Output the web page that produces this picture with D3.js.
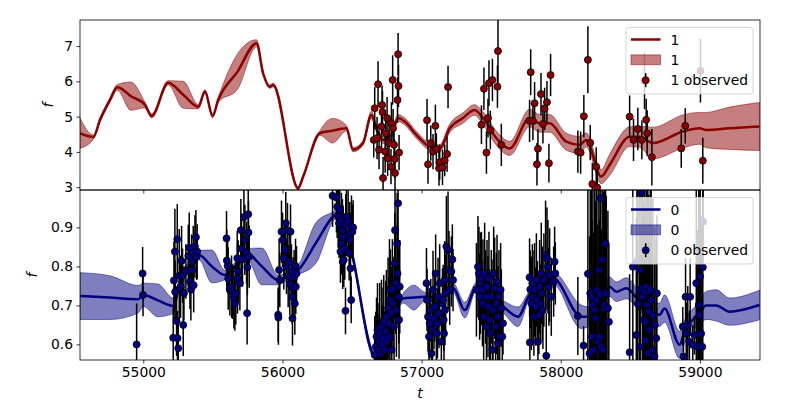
<!DOCTYPE html>
<html><head><meta charset="utf-8">
<script src="https://cdn.jsdelivr.net/npm/d3@7"></script>
<style>body{margin:0;background:#fff} text{font-family:"DejaVu Sans",sans-serif}</style>
</head><body><svg id="c" width="800" height="400"></svg>
<script>
const xTicks = [55000,56000,57000,58000,59000];
const topYTicks = [3,4,5,6,7];
const botYTicks = [0.6,0.7,0.8,0.9];
const seriesNames = ["1","0"];

// GP mean [t, f, sigma] for series "1" (top)
const topMean = [[54545,4.53,0.43],[54641,4.42,0.06],[54689,4.91,0.06],[54760,5.47,0.06],[54813,5.83,0.08],[54911,5.58,0.40],[55012,5.33,0.08],[55060,5.02,0.06],[55179,5.96,0.06],[55287,5.62,0.38],[55395,5.28,0.06],[55443,5.71,0.05],[55498,5.02,0.05],[55538,5.47,0.07],[55676,6.27,0.50],[55814,7.08,0.1],[55861,6.23,0.05],[55909,5.85,0.05],[55933,5.90,0.05],[56113,2.97,0.05],[56149,3.30,0.05],[56268,4.53,0.06],[56361,4.60,0.35],[56460,4.67,0.08],[56507,4.06,0.06],[56579,4.25,0.06],[56639,5.05,0.1],[56675,4.67,0.1],[56723,4.34,0.1],[56783,4.48,0.1],[56831,4.96,0.1],[56879,4.86,0.1],[56963,4.48,0.1],[57058,4.15,0.1],[57130,4.10,0.1],[57202,4.67,0.12],[57297,4.96,0.15],[57381,5.19,0.15],[57441,4.96,0.18],[57537,4.39,0.2],[57633,4.10,0.2],[57776,4.96,0.25],[57848,4.81,0.25],[57920,4.81,0.25],[58040,4.29,0.24],[58135,4.20,0.24],[58183,4.34,0.2],[58291,3.30,0.2],[58351,3.63,0.3],[58495,4.43,0.28],[58567,4.43,0.3],[58663,4.25,0.45],[58878,4.58,0.47],[58997,4.67,0.45],[59045,4.62,0.5],[59212,4.67,0.6],[59428,4.72,0.68]];

// GP mean [t, f, sigma] for series "0" (bottom)
const botMean = [[54545,0.724,0.06],[54760,0.720,0.056],[54964,0.716,0.035],[55000,0.727,0.03],[55105,0.713,0.042],[55215,0.699,0.02],[55263,0.761,0.012],[55359,0.812,0.012],[55400,0.829,0.012],[55493,0.80,0.042],[55586,0.778,0.012],[55658,0.80,0.01],[55742,0.834,0.012],[55852,0.80,0.047],[55969,0.765,0.012],[56053,0.78,0.01],[56113,0.791,0.012],[56240,0.86,0.052],[56364,0.928,0.012],[56412,0.94,0.01],[56448,0.90,0.01],[56496,0.838,0.01],[56663,0.573,0.01],[56735,0.60,0.01],[56807,0.68,0.01],[56867,0.718,0.012],[56944,0.72,0.032],[57022,0.722,0.012],[57130,0.72,0.01],[57226,0.745,0.012],[57310,0.688,0.02],[57394,0.748,0.01],[57489,0.72,0.01],[57585,0.697,0.015],[57693,0.671,0.025],[57776,0.727,0.01],[57884,0.75,0.01],[57944,0.77,0.015],[58147,0.671,0.03],[58207,0.671,0.025],[58279,0.693,0.02],[58351,0.748,0.025],[58399,0.735,0.025],[58471,0.744,0.027],[58567,0.71,0.025],[58663,0.68,0.025],[58710,0.676,0.03],[58746,0.692,0.035],[58854,0.599,0.035],[58890,0.633,0.03],[58997,0.68,0.03],[59045,0.70,0.036],[59117,0.70,0.04],[59213,0.684,0.035],[59428,0.701,0.038]];

// observations [t, f, err] series "1"
const topObs = [[56656,4.34,0.5],[56663,5.24,0.6],[56680,4.39,0.6],[56687,5.92,0.65],[56694,4.06,0.55],[56712,4.72,0.7],[56716,5.33,0.55],[56719,5.13,0.6],[56723,3.26,0.6],[56738,4.01,0.6],[56742,4.53,0.55],[56752,4.96,0.6],[56756,3.82,0.5],[56766,4.25,0.55],[56780,3.58,0.5],[56783,4.81,0.6],[56792,6.04,0.7],[56795,4.67,0.55],[56802,4.20,0.6],[56806,3.80,0.55],[56809,3.40,0.6],[56827,5.47,0.65],[56831,6.77,0.6],[56834,5.87,0.6],[56838,3.98,0.5],
[57039,4.90,0.6],[57046,3.65,0.55],[57066,4.25,0.5],[57082,4.01,0.5],[57099,4.74,0.6],[57106,4.08,0.45],[57125,3.54,0.5],[57130,3.71,0.5],[57150,3.56,0.5],[57166,3.76,0.45],[57183,3.94,0.5],[57190,5.84,0.6],
[57430,4.77,0.55],[57448,5.79,0.6],[57466,3.98,0.6],[57477,4.96,0.55],[57484,5.95,0.65],[57494,4.62,0.55],[57509,6.04,0.6],[57545,5.85,0.6],[57549,6.86,0.9],[57573,4.20,0.6],
[57776,4.88,0.6],[57784,6.26,0.65],[57800,4.88,0.55],[57812,5.38,0.6],[57829,3.65,0.6],[57836,4.09,0.55],[57858,5.64,0.6],[57872,4.79,0.55],[57884,5.22,0.6],[57901,5.41,0.6],[57915,3.68,0.55],[57927,6.18,0.6],
[58123,4.01,0.6],[58143,3.98,0.6],[58166,5.01,0.6],[58195,6.61,0.95],[58212,4.26,0.5],[58227,3.09,0.6],[58255,3.58,0.55],[58262,2.99,0.5],
[58495,5.00,0.6],[58523,4.34,0.6],[58554,4.65,0.6],[58583,4.34,0.55],[58602,6.01,0.8],[58614,4.91,0.6],[58621,4.53,0.65],[58655,3.85,0.8],[58866,4.10,0.55],[58895,4.74,0.5],[59004,6.30,0.9],[59021,3.75,0.65]];

// observations [t, f, err] series "0"
const botObs = [[54952,0.600,0.105],[54995,0.782,0.068],[54998,0.727,0.055],
[55215,0.617,0.08],[55220,0.764,0.1],[55227,0.838,0.11],[55229,0.735,0.08],[55239,0.660,0.09],[55244,0.870,0.09],[55246,0.616,0.07],[55251,0.590,0.07],[55258,0.776,0.12],[55268,0.748,0.08],[55275,0.814,0.09],[55282,0.776,0.07],[55287,0.650,0.08],[55292,0.731,0.07],[55306,0.787,0.07],[55323,0.827,0.08],[55330,0.848,0.09],[55335,0.761,0.07],[55342,0.741,0.08],[55347,0.812,0.07],[55354,0.791,0.06],[55359,0.834,0.07],[55362,0.752,0.07],[55371,0.851,0.08],[55378,0.875,0.07],[55383,0.825,0.06],[55387,0.838,0.07],
[55598,0.872,0.07],[55600,0.815,0.08],[55606,0.801,0.07],[55610,0.769,0.08],[55622,0.744,0.07],[55634,0.748,0.08],[55642,0.735,0.07],[55651,0.721,0.08],[55658,0.705,0.07],[55665,0.731,0.08],[55675,0.821,0.07],[55677,0.769,0.09],[55682,0.787,0.08],[55694,0.757,0.07],[55701,0.893,0.08],[55706,0.846,0.09],[55713,0.818,0.07],[55723,0.926,0.08],[55730,0.868,0.09],[55742,0.835,0.08],[55746,0.680,0.08],[55748,0.798,0.07],[55754,0.934,0.09],[55756,0.887,0.08],[55761,0.825,0.08],
[55969,0.676,0.07],[55971,0.669,0.07],[55976,0.791,0.08],[55981,0.765,0.07],[55993,0.889,0.08],[56001,0.868,0.07],[56010,0.821,0.08],[56017,0.842,0.07],[56024,0.911,0.08],[56029,0.799,0.07],[56036,0.893,0.07],[56041,0.775,0.08],[56048,0.812,0.07],[56053,0.755,0.08],[56058,0.889,0.07],[56065,0.787,0.07],[56070,0.722,0.07],[56072,0.667,0.07],[56077,0.744,0.08],[56084,0.772,0.07],[56089,0.705,0.08],[56094,0.801,0.07],[56096,0.748,0.07],[56101,0.782,0.07],
[56360,0.981,0.08],[56388,0.977,0.09],[56393,0.953,0.08],[56400,0.928,0.08],[56407,0.911,0.09],[56412,0.945,0.08],[56417,0.838,0.08],[56424,0.919,0.07],[56426,0.859,0.08],[56431,0.893,0.08],[56433,0.812,0.07],[56436,0.876,0.08],[56441,0.817,0.07],[56448,0.846,0.08],[56453,0.686,0.06],[56455,0.906,0.08],[56460,0.928,0.09],[56472,0.915,0.08],[56479,0.834,0.07],[56484,0.885,0.08],[56486,0.868,0.07],[56489,0.795,0.07],[56494,0.714,0.06],[56496,0.902,0.08],[56503,0.889,0.07],[56508,0.900,0.07],
[56663,0.573,0.1],[56671,0.594,0.09],[56676,0.620,0.1],[56683,0.637,0.12],[56687,0.586,0.09],[56694,0.607,0.1],[56699,0.628,0.13],[56706,0.577,0.09],[56712,0.646,0.12],[56719,0.599,0.1],[56723,0.616,0.13],[56728,0.658,0.12],[56735,0.586,0.1],[56742,0.633,0.13],[56747,0.671,0.12],[56752,0.607,0.1],[56759,0.693,0.13],[56766,0.654,0.12],[56769,0.740,0.13],[56771,0.620,0.1],[56776,0.714,0.13],[56783,0.680,0.12],[56785,0.586,0.1],[56790,0.740,0.13],[56795,0.705,0.12],[56802,0.646,0.13],[56807,0.808,0.13],[56809,0.893,0.15],[56814,0.757,0.13],[56819,0.688,0.12],[56824,0.859,0.13],[56827,0.782,0.13],[56831,0.962,0.13],[56836,0.722,0.12],[56838,0.663,0.1],[56843,0.748,0.12],
[57035,0.757,0.09],[57039,0.714,0.08],[57046,0.671,0.09],[57053,0.620,0.08],[57058,0.654,0.09],[57066,0.688,0.08],[57071,0.577,0.07],[57078,0.637,0.09],[57082,0.740,0.1],[57089,0.667,0.08],[57094,0.697,0.09],[57101,0.782,0.1],[57106,0.628,0.08],[57114,0.654,0.09],[57118,0.722,0.1],[57125,0.680,0.09],[57130,0.757,0.1],[57142,0.607,0.08],[57150,0.705,0.09],[57155,0.714,0.09],[57159,0.663,0.08],[57161,0.628,0.08],[57166,0.765,0.1],[57168,0.688,0.09],[57173,0.731,0.1],[57178,0.851,0.13],[57190,0.842,0.15],[57197,0.791,0.1],[57202,0.740,0.09],[57214,0.787,0.09],[57221,0.818,0.09],[57226,0.765,0.08],
[57394,0.740,0.12],[57405,0.799,0.13],[57412,0.782,0.12],[57417,0.722,0.11],[57422,0.757,0.13],[57430,0.769,0.12],[57437,0.705,0.11],[57441,0.740,0.13],[57446,0.671,0.12],[57453,0.782,0.13],[57460,0.722,0.12],[57466,0.646,0.13],[57470,0.748,0.12],[57477,0.697,0.13],[57484,0.769,0.12],[57489,0.663,0.13],[57494,0.628,0.13],[57501,0.722,0.12],[57509,0.586,0.13],[57513,0.688,0.13],[57518,0.782,0.12],[57525,0.744,0.13],[57532,0.646,0.12],[57537,0.705,0.13],[57542,0.761,0.12],[57547,0.603,0.1],[57549,0.671,0.13],[57556,0.722,0.12],[57561,0.620,0.13],[57568,0.740,0.12],[57573,0.693,0.1],[57580,0.620,0.09],[57585,0.654,0.08],
[57776,0.772,0.1],[57778,0.605,0.09],[57781,0.741,0.1],[57789,0.705,0.12],[57796,0.757,0.1],[57800,0.722,0.12],[57807,0.671,0.1],[57812,0.740,0.12],[57820,0.697,0.1],[57825,0.765,0.12],[57832,0.714,0.1],[57836,0.607,0.09],[57843,0.675,0.1],[57848,0.748,0.12],[57855,0.705,0.1],[57860,0.782,0.13],[57868,0.731,0.12],[57872,0.688,0.1],[57879,0.765,0.12],[57891,0.829,0.14],[57896,0.571,0.11],[57901,0.821,0.13],[57908,0.799,0.12],[57915,0.748,0.1],[57920,0.778,0.12],[57932,0.722,0.1],[57949,0.761,0.09],[57956,0.812,0.09],[57961,0.782,0.08],
[58123,0.673,0.1],[58164,0.597,0.05],[58195,0.781,0.25],[58207,0.577,0.3],[58212,0.731,0.4],[58220,0.721,0.4],[58224,0.620,0.3],[58231,0.701,0.4],[58236,0.586,0.3],[58243,0.688,0.45],[58250,0.667,0.3],[58255,0.714,0.4],[58260,0.740,0.4],[58267,0.607,0.3],[58274,0.791,0.35],[58279,0.620,0.3],[58284,0.729,0.4],[58286,0.975,0.3],[58291,0.594,0.3],[58298,0.818,0.35],[58303,0.586,0.25],[58308,0.693,0.3],[58315,0.701,0.3],[58322,0.859,0.3],[58327,0.731,0.25],[58339,0.693,0.25],[58346,0.658,0.2],
[58495,0.580,0.2],[58518,0.799,0.3],[58543,0.624,0.3],[58547,0.812,0.35],[58554,0.705,0.35],[58566,0.740,0.35],[58568,0.791,0.3],[58571,0.594,0.3],[58579,0.989,0.3],[58586,0.722,0.35],[58590,0.744,0.3],[58595,0.663,0.3],[58602,0.735,0.35],[58609,0.611,0.3],[58611,0.658,0.3],[58614,0.748,0.35],[58619,0.701,0.3],[58626,0.735,0.35],[58628,0.577,0.3],[58633,0.684,0.3],[58638,0.637,0.3],[58643,0.740,0.3],[58650,0.714,0.3],[58658,0.586,0.3],[58662,0.675,0.3],[58674,0.569,0.25],[58676,0.650,0.25],[58686,0.616,0.25],[58691,0.731,0.2],
[58877,0.646,0.05],[58882,0.569,0.06],[58897,0.722,0.1],[58902,0.628,0.08],[58913,0.650,0.1],[58925,0.607,0.08],[58930,0.722,0.1],[58949,0.599,0.05],[58961,0.624,0.05],[58974,0.757,0.3],[58985,0.594,0.3],[58992,0.701,0.35],[58997,0.675,0.35],[59002,0.774,0.35],[59009,0.628,0.3],[59017,0.594,0.3],[59021,0.798,0.3],[59023,0.915,0.1]];

const colors = {"1":"#8b0000","0":"#000080"};
const xDomain = [54545, 59432];
const topDomain = [2.92, 7.74];
const botDomain = [0.56, 0.996];

const svg = d3.select("#c");
const L = 80, R = 760;
const x = d3.scaleLinear().domain(xDomain).range([L, R]);
const panels = [
  {name:"1", top:20, bot:190, dom:topDomain, ticks:topYTicks, fmt:d3.format("d"), mean:topMean, obs:topObs, labelX:49, xlabels:false},
  {name:"0", top:190, bot:360, dom:botDomain, ticks:botYTicks, fmt:d3.format(".1f"), mean:botMean, obs:botObs, labelX:33, xlabels:true}
];
const FS = 13.9;

panels.forEach((p, i) => {
  const y = d3.scaleLinear().domain(p.dom).range([p.bot, p.top]);
  const col = colors[p.name];
  const clipId = "clip" + i;
  svg.append("clipPath").attr("id", clipId).append("rect")
    .attr("x", L).attr("y", p.top).attr("width", R - L).attr("height", p.bot - p.top);
  const g = svg.append("g").attr("clip-path", `url(#${clipId})`);

  const area = d3.area().x(d => x(d[0])).y0(d => y(d[1] - d[2])).y1(d => y(d[1] + d[2])).curve(d3.curveMonotoneX);
  g.append("path").datum(p.mean).attr("d", area)
    .attr("fill", col).attr("fill-opacity", 0.5)
    .attr("stroke", col).attr("stroke-opacity", 0.5).attr("stroke-width", 1);
  const line = d3.line().x(d => x(d[0])).y(d => y(d[1])).curve(d3.curveMonotoneX);
  g.append("path").datum(p.mean).attr("d", line)
    .attr("fill", "none").attr("stroke", col).attr("stroke-width", 2.5);

  g.append("g").selectAll("line").data(p.obs).join("line")
    .attr("x1", d => x(d[0])).attr("x2", d => x(d[0]))
    .attr("y1", d => y(d[1] - d[2])).attr("y2", d => y(d[1] + d[2]))
    .attr("stroke", "#000").attr("stroke-width", 1.5);
  g.append("g").selectAll("circle").data(p.obs).join("circle")
    .attr("cx", d => x(d[0])).attr("cy", d => y(d[1])).attr("r", 3.5)
    .attr("fill", col).attr("stroke", "#000").attr("stroke-width", 0.8);

  const ya = svg.append("g").attr("transform", `translate(${L},0)`)
    .call(d3.axisLeft(y).tickValues(p.ticks).tickFormat(p.fmt).tickSize(3.5).tickPadding(3.5));
  ya.select(".domain").remove();
  ya.selectAll("line").attr("stroke", "#000").attr("stroke-width", 0.8);
  ya.selectAll("text").attr("font-size", FS).attr("fill", "#000").attr("font-family", "DejaVu Sans");

  const xa = svg.append("g").attr("transform", `translate(0,${p.bot})`)
    .call(d3.axisBottom(x).tickValues(xTicks).tickFormat(d3.format("d")).tickSize(3.5).tickPadding(3.5));
  xa.select(".domain").remove();
  xa.selectAll("line").attr("stroke", "#000").attr("stroke-width", 0.8);
  xa.selectAll("text").attr("font-size", FS).attr("fill", "#000").attr("font-family", "DejaVu Sans");
  if (!p.xlabels) xa.selectAll("text").remove();

  svg.append("rect").attr("x", L).attr("y", p.top).attr("width", R - L).attr("height", p.bot - p.top)
    .attr("fill", "none").attr("stroke", "#000").attr("stroke-width", 0.8);

  const cy = (p.top + p.bot) / 2;
  svg.append("text").attr("transform", `translate(${p.labelX + 4},${cy}) rotate(-90)`)
    .attr("text-anchor", "middle").attr("font-size", FS).attr("font-style", "italic").text("f");

  const lx = 626, ly = p.top + 7.5, lw = 127, lh = 66.5;
  const lg = svg.append("g");
  lg.append("rect").attr("x", lx).attr("y", ly).attr("width", lw).attr("height", lh).attr("rx", 3)
    .attr("fill", "#fff").attr("fill-opacity", 0.8).attr("stroke", "#ccc").attr("stroke-opacity", 0.8).attr("stroke-width", 1);
  const rows = [ly + 12, ly + 32.3, ly + 52.7];
  lg.append("line").attr("x1", lx + 5).attr("x2", lx + 34.5).attr("y1", rows[0]).attr("y2", rows[0])
    .attr("stroke", col).attr("stroke-width", 2.5);
  lg.append("rect").attr("x", lx + 5).attr("y", rows[1] - 4.9).attr("width", 29.5).attr("height", 9.8)
    .attr("fill", col).attr("fill-opacity", 0.5).attr("stroke", col).attr("stroke-opacity", 0.5);
  lg.append("line").attr("x1", lx + 19.7).attr("x2", lx + 19.7).attr("y1", rows[2] - 7).attr("y2", rows[2] + 7)
    .attr("stroke", "#000").attr("stroke-width", 1.5);
  lg.append("circle").attr("cx", lx + 19.7).attr("cy", rows[2]).attr("r", 3.5)
    .attr("fill", col).attr("stroke", "#000").attr("stroke-width", 0.8);
  [p.name, p.name, p.name + " observed"].forEach((t, k) => {
    lg.append("text").attr("x", lx + 44.5).attr("y", rows[k]).attr("dy", "0.36em")
      .attr("font-size", FS).text(t);
  });
});

svg.append("text").attr("x", (L + R) / 2).attr("y", 398).attr("text-anchor", "middle")
  .attr("font-size", FS).attr("font-style", "italic").text("t");
</script></body></html>
